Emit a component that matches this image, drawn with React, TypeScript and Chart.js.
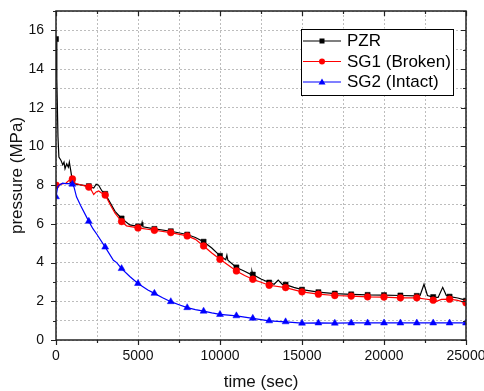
import React, { useEffect, useRef } from 'react';
import { Chart, registerables } from 'chart.js';

Chart.register(...registerables);

// ---- Data ----
const seriesNames = ['PZR', 'SG1 (Broken)', 'SG2 (Intact)'];

const pzrTime = [0, 50, 120, 177, 306, 410, 489, 550, 654, 752, 813, 898, 960, 1000, 1200, 1500, 2000, 2300, 2450, 2600, 2800, 3000, 3300, 3600, 4000, 4500, 5000, 5200, 5250, 5300, 6000, 7000, 8000, 8500, 9000, 9500, 10000, 10350, 10420, 10480, 11000, 11500, 11900, 11950, 12000, 12500, 13000, 13300, 13550, 13800, 14000, 14500, 15000, 16000, 17000, 18000, 19000, 20000, 21000, 22000, 22200, 22440, 22650, 23000, 23300, 23580, 23800, 24000, 24500, 24800, 25000];
const pzrPressure = [15.55, 13.5, 10.5, 9.45, 9.28, 9.05, 9.19, 8.85, 9.1, 8.93, 9.19, 8.76, 8.42, 8.25, 8.05, 8.02, 7.95, 7.85, 8.05, 8.0, 7.7, 7.55, 7.1, 6.65, 6.28, 5.95, 5.87, 5.9, 6.08, 5.85, 5.74, 5.62, 5.45, 5.3, 5.08, 4.75, 4.35, 4.15, 4.38, 4.12, 3.75, 3.55, 3.38, 3.55, 3.38, 3.15, 2.97, 2.88, 3.1, 2.87, 2.86, 2.72, 2.6, 2.47, 2.4, 2.36, 2.33, 2.32, 2.3, 2.28, 2.3, 2.88, 2.3, 2.22, 2.2, 2.72, 2.3, 2.24, 2.17, 2.1, 2.03];

const sg1Time = [0, 300, 600, 800, 1000, 1150, 1500, 2000, 2150, 2300, 2450, 2600, 2800, 3000, 3300, 3600, 4000, 4300, 5000, 6000, 7000, 8000, 8500, 9000, 9500, 10000, 11000, 11500, 12000, 13000, 14000, 15000, 16000, 17000, 18000, 19000, 20000, 21000, 22000, 22500, 23000, 23200, 23500, 24000, 24500, 25000];
const sg1Pressure = [8.0, 8.05, 8.1, 8.25, 8.32, 8.1, 8.02, 7.9, 7.75, 7.52, 7.65, 7.7, 7.58, 7.49, 7.0, 6.55, 6.12, 5.9, 5.79, 5.67, 5.55, 5.38, 5.2, 4.86, 4.5, 4.17, 3.57, 3.33, 3.14, 2.83, 2.71, 2.49, 2.37, 2.3, 2.27, 2.23, 2.22, 2.18, 2.18, 2.12, 2.06, 2.0, 2.1, 2.11, 2.05, 1.92];

const sg2Time = [0, 100, 200, 400, 600, 800, 1000, 1100, 1250, 1500, 2000, 2250, 2500, 3000, 3500, 3700, 4000, 4500, 5000, 5300, 5600, 6000, 6500, 7000, 7500, 8000, 8500, 9000, 9500, 10000, 11000, 12000, 13000, 14000, 15000, 16000, 17000, 18000, 19000, 20000, 21000, 22000, 23000, 24000, 25000];
const sg2Pressure = [7.4, 7.9, 8.0, 8.1, 8.08, 8.08, 8.05, 7.9, 7.4, 6.95, 6.13, 5.75, 5.45, 4.8, 4.12, 4.0, 3.69, 3.28, 2.92, 2.75, 2.58, 2.41, 2.18, 1.98, 1.82, 1.67, 1.57, 1.49, 1.4, 1.32, 1.25, 1.12, 0.99, 0.94, 0.87, 0.88, 0.87, 0.88, 0.88, 0.88, 0.88, 0.88, 0.88, 0.88, 0.88];

const markerEvery = 1000;
const xMin = 0;
const xMax = 25000;
const xGridStep = 2500;
const xLabelStep = 5000;
const yMin = 0;
const yMax = 17;
const yGridStep = 1;
const yLabelStep = 2;

const FONT = 'Liberation Sans, Arial, Helvetica, sans-serif';

const toPoints = (t: number[], p: number[]) => t.map((x, i) => ({ x, y: p[i] }));

const markerRadius = (r: number) => (c: any) => {
  const raw = c.raw as { x: number } | undefined;
  return raw && raw.x % markerEvery === 0 ? r : 0;
};

// Frame, inward/outward tick marks
const framePlugin = {
  id: 'frameTicks',
  afterDatasetsDraw(chart: any) {
    const { ctx, chartArea } = chart;
    const { left, right, top, bottom } = chartArea;
    const xs = chart.scales.x;
    const ys = chart.scales.y;
    ctx.save();
    ctx.strokeStyle = '#222';
    ctx.lineWidth = 1.2;
    ctx.beginPath();
    for (let v = xMin; v <= xMax; v += xGridStep) {
      const px = Math.round(xs.getPixelForValue(v)) + 0.5;
      const len = v % xLabelStep === 0 ? 5 : 3;
      ctx.moveTo(px, bottom);
      ctx.lineTo(px, bottom + len);
      ctx.moveTo(px, top);
      ctx.lineTo(px, top + len);
    }
    for (let v = yMin; v <= yMax; v += yGridStep) {
      const py = Math.round(ys.getPixelForValue(v)) + 0.5;
      const len = v % yLabelStep === 0 ? 5 : 3;
      ctx.moveTo(left - len, py);
      ctx.lineTo(left, py);
      ctx.moveTo(right - len, py);
      ctx.lineTo(right, py);
    }
    ctx.stroke();
    ctx.lineWidth = 1.5;
    ctx.strokeRect(left, top, right - left, bottom - top);
    ctx.restore();
  },
};

// Boxed legend inside the plot, top-right
const legendPlugin = {
  id: 'boxLegend',
  afterDraw(chart: any) {
    const { ctx, chartArea } = chart;
    const boxRight = chartArea.right - 13;
    const boxTop = chartArea.top + 17.5;
    const boxW = 152;
    const rowH = 20.5;
    const boxH = 66;
    const boxLeft = boxRight - boxW;
    ctx.save();
    ctx.fillStyle = '#fff';
    ctx.fillRect(boxLeft, boxTop, boxW, boxH);
    ctx.strokeStyle = '#000';
    ctx.lineWidth = 1;
    ctx.strokeRect(Math.round(boxLeft) + 0.5, Math.round(boxTop) + 0.5, boxW, boxH);
    chart.data.datasets.forEach((ds: any, i: number) => {
      const y = boxTop + 12.5 + i * rowH;
      const x0 = boxLeft + 2;
      const x1 = boxLeft + 40;
      const xm = (x0 + x1) / 2;
      ctx.strokeStyle = ds.borderColor;
      ctx.lineWidth = 1.2;
      ctx.beginPath();
      ctx.moveTo(x0, y);
      ctx.lineTo(x1, y);
      ctx.stroke();
      ctx.fillStyle = ds.borderColor;
      ctx.beginPath();
      if (ds.pointStyle === 'rect') {
        ctx.rect(xm - 2.5, y - 2.5, 5, 5);
      } else if (ds.pointStyle === 'circle') {
        ctx.arc(xm, y, 3, 0, Math.PI * 2);
      } else {
        ctx.moveTo(xm, y - 3.5);
        ctx.lineTo(xm + 3.5, y + 2.5);
        ctx.lineTo(xm - 3.5, y + 2.5);
        ctx.closePath();
      }
      ctx.fill();
      ctx.fillStyle = '#000';
      ctx.font = `17px ${FONT}`;
      ctx.textBaseline = 'middle';
      ctx.textAlign = 'left';
      ctx.fillText(ds.label, boxLeft + 46, y + 0.5);
    });
    ctx.restore();
  },
};

export default function App() {
  const canvasRef = useRef<HTMLCanvasElement | null>(null);

  useEffect(() => {
    if (!canvasRef.current) return;
    const chart = new Chart(canvasRef.current, {
      type: 'line',
      data: {
        datasets: [
          {
            label: seriesNames[0],
            data: toPoints(pzrTime, pzrPressure),
            borderColor: '#000000',
            backgroundColor: '#000000',
            borderWidth: 1.2,
            pointStyle: 'rect',
            pointRadius: markerRadius(3.6),
            pointBorderWidth: 0.5,
            pointBackgroundColor: '#000000',
            pointBorderColor: '#000000',
            tension: 0,
            order: 3,
          },
          {
            label: seriesNames[1],
            data: toPoints(sg1Time, sg1Pressure),
            borderColor: '#ff0000',
            backgroundColor: '#ff0000',
            borderWidth: 1.2,
            pointStyle: 'circle',
            pointRadius: markerRadius(3.4),
            pointBorderWidth: 0.5,
            pointBackgroundColor: '#ff0000',
            pointBorderColor: '#ff0000',
            tension: 0,
            order: 2,
          },
          {
            label: seriesNames[2],
            data: toPoints(sg2Time, sg2Pressure),
            borderColor: '#0000ff',
            backgroundColor: '#0000ff',
            borderWidth: 1.2,
            pointStyle: 'triangle',
            pointRadius: markerRadius(4),
            pointBorderWidth: 0.5,
            pointBackgroundColor: '#0000ff',
            pointBorderColor: '#0000ff',
            tension: 0,
            order: 1,
          },
        ],
      },
      options: {
        responsive: false,
        animation: false,
        events: [],
        layout: { padding: { top: 11, right: 18, left: 0, bottom: 0 } },
        plugins: {
          legend: { display: false },
          tooltip: { enabled: false },
        },
        scales: {
          x: {
            type: 'linear',
            min: xMin,
            max: xMax,
            afterFit: (s: any) => {
              s.height = 51;
              s.paddingLeft = 0;
              s.paddingRight = 0;
            },
            ticks: {
              stepSize: xGridStep,
              autoSkip: false,
              maxRotation: 0,
              padding: 8,
              color: '#111',
              font: { family: FONT, size: 14 },
              callback: (v: any) => (Number(v) % xLabelStep === 0 ? String(v) : ''),
            },
            grid: { color: '#bdbdbd', lineWidth: 1, drawTicks: false },
            border: { display: false, dash: [2, 2] },
            title: {
              display: true,
              text: 'time (sec)',
              color: '#111',
              font: { family: FONT, size: 17, lineHeight: 1 },
              padding: { top: 0, bottom: 0 },
            },
          },
          y: {
            type: 'linear',
            min: yMin,
            max: yMax,
            afterFit: (s: any) => {
              s.width = 56;
              s.paddingTop = 0;
              s.paddingBottom = 0;
            },
            ticks: {
              stepSize: yGridStep,
              autoSkip: false,
              padding: 12,
              color: '#111',
              font: { family: FONT, size: 14 },
              callback: (v: any) => (Number(v) % yLabelStep === 0 ? String(v) : ''),
            },
            grid: { color: '#bdbdbd', lineWidth: 1, drawTicks: false },
            border: { display: false, dash: [2, 2] },
            title: {
              display: true,
              text: 'pressure (MPa)',
              color: '#111',
              font: { family: FONT, size: 17, lineHeight: 1 },
              padding: { top: 8.6, bottom: 0 },
            },
          },
        },
      },
      plugins: [framePlugin, legendPlugin],
    });
    return () => chart.destroy();
  }, []);

  return (
    <div style={{ position: 'absolute', left: 0, top: 0, width: 484, height: 391, background: '#fff' }}>
      <canvas ref={canvasRef} width={484} height={391} style={{ display: 'block' }} />
    </div>
  );
}
